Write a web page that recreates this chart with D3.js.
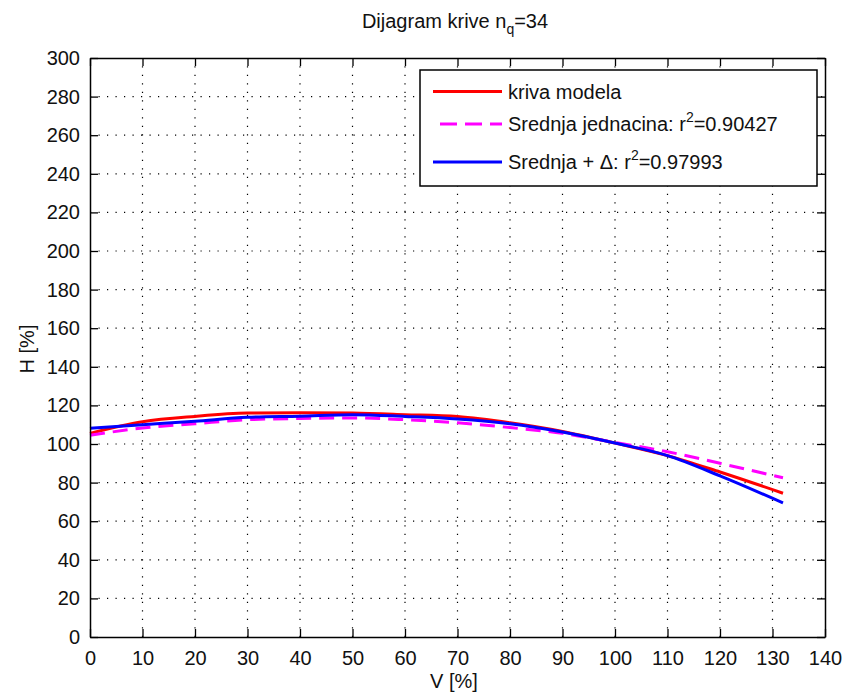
<!DOCTYPE html>
<html>
<head>
<meta charset="utf-8">
<script src="https://cdn.jsdelivr.net/npm/d3@7"></script>
<style>
  body { margin: 0; background: #fff; }
  svg { font-family: "Liberation Sans", Arial, sans-serif; }
</style>
</head>
<body>
<svg></svg>
<script>
// velicina slike
var width = 845;
var height = 694;
var margin = {top: 58, right: 20, bottom: 57, left: 90};

// podaci (ocitani sa slike)
var xKriva = [0, 10, 20, 30, 40, 50, 60, 70, 80, 90, 100, 110, 120, 132];
var kriva = [105.5, 111.5, 114.3, 116, 116.2, 116, 115.2, 114.2, 111, 106.5, 100.5, 94, 85.5, 74.5];
var srednja = [104.5, 108.3, 110.5, 112.6, 113.2, 113.5, 112.6, 111, 108.5, 105.5, 100.8, 96, 90, 82.5];
var delta = [108.2, 110, 111.8, 113.8, 114.4, 115.2, 114.3, 113, 110.5, 106.2, 100.5, 94, 83.5, 69.5];
var xTicks = [0, 10, 20, 30, 40, 50, 60, 70, 80, 90, 100, 110, 120, 130, 140];
var yTicks = [0, 20, 40, 60, 80, 100, 120, 140, 160, 180, 200, 220, 240, 260, 280, 300];
var legenda = ["kriva modela", "Srednja jednacina: r", "Srednja + \u0394: r"];
var r2 = ["", "=0.90427", "=0.97993"];
var boje = ["#ff0000", "#ff00ff", "#0000ff"];

var svg = d3.select("svg")
  .attr("width", width)
  .attr("height", height)
  .style("background", "#ffffff");

var x = d3.scaleLinear().domain([0, 140]).range([margin.left, width - margin.right]);
var y = d3.scaleLinear().domain([0, 300]).range([height - margin.bottom, margin.top]);

var x0 = x(0), x1 = x(140), y0 = y(0), y1 = y(300);

// mreza
var grid = svg.append("g");
grid.selectAll("line.v")
  .data(xTicks.slice(1, -1))
  .enter().append("line")
  .attr("x1", function(d) { return x(d); })
  .attr("x2", function(d) { return x(d); })
  .attr("y1", y0).attr("y2", y1)
  .attr("stroke", "#000").attr("stroke-width", 1.2)
  .attr("stroke-dasharray", "1.2,7.3");
grid.selectAll("line.h")
  .data(yTicks.slice(1, -1))
  .enter().append("line")
  .attr("y1", function(d) { return y(d); })
  .attr("y2", function(d) { return y(d); })
  .attr("x1", x0).attr("x2", x1)
  .attr("stroke", "#000").attr("stroke-width", 1.2)
  .attr("stroke-dasharray", "1.2,7.3");

// krive
var nizovi = [kriva, srednja, delta];
var line = d3.line()
  .x(function(d) { return x(d[0]); })
  .y(function(d) { return y(d[1]); })
  .curve(d3.curveMonotoneX);

svg.selectAll("path.kriva")
  .data(nizovi)
  .enter().append("path")
  .attr("d", function(s) { return line(d3.zip(xKriva, s)); })
  .attr("fill", "none")
  .attr("stroke", function(d, i) { return boje[i]; })
  .attr("stroke-width", 3)
  .attr("stroke-dasharray", function(d, i) { return i == 1 ? "15,8" : null; });

// ose
var axB = svg.append("g").attr("transform", "translate(0," + y0 + ")")
  .call(d3.axisBottom(x).tickValues(xTicks).tickSizeInner(-8).tickSizeOuter(0).tickPadding(14));
var axT = svg.append("g").attr("transform", "translate(0," + y1 + ")")
  .call(d3.axisTop(x).tickValues(xTicks).tickSizeInner(-8).tickSizeOuter(0).tickFormat(""));
var axL = svg.append("g").attr("transform", "translate(" + x0 + ",0)")
  .call(d3.axisLeft(y).tickValues(yTicks).tickSizeInner(-8).tickSizeOuter(0).tickPadding(10));
var axR = svg.append("g").attr("transform", "translate(" + x1 + ",0)")
  .call(d3.axisRight(y).tickValues(yTicks).tickSizeInner(-8).tickSizeOuter(0).tickFormat(""));

[axB, axT, axL, axR].forEach(function(a) {
  a.select(".domain").attr("stroke", "#000").attr("stroke-width", 1.5);
  a.selectAll(".tick line").attr("stroke", "#000").attr("stroke-width", 1.3);
  a.selectAll("text").attr("font-size", 20).attr("fill", "#111")
    .attr("font-family", "Liberation Sans, Arial, sans-serif");
});

// legenda
var lg = svg.append("g");
lg.append("rect")
  .attr("x", 420).attr("y", 70)
  .attr("width", 397).attr("height", 116)
  .attr("fill", "#fff").attr("stroke", "#000").attr("stroke-width", 1.5);
var redovi = [91.5, 124, 162];
lg.selectAll("line.lg")
  .data(boje)
  .enter().append("line")
  .attr("x1", function(d, i) { return i == 1 ? 440 : 433; })
  .attr("x2", 502)
  .attr("y1", function(d, i) { return redovi[i]; })
  .attr("y2", function(d, i) { return redovi[i]; })
  .attr("stroke", function(d) { return d; })
  .attr("stroke-width", 3)
  .attr("stroke-dasharray", function(d, i) { return i == 1 ? "17,8" : null; });
var lt = lg.selectAll("text.lg")
  .data(legenda)
  .enter().append("text")
  .attr("x", 508)
  .attr("y", function(d, i) { return redovi[i] + 7; })
  .attr("font-size", 20)
  .attr("fill", "#111");
lt.append("tspan").text(function(d) { return d; });
lt.filter(function(d, i) { return i > 0; })
  .append("tspan").attr("font-size", 14).attr("dy", -9).text("2");
lt.filter(function(d, i) { return i > 0; })
  .append("tspan").attr("dy", 9).text(function(d, i) { return r2[i + 1]; });

// naslov
var t = svg.append("text")
  .attr("x", 455).attr("y", 28)
  .attr("text-anchor", "middle")
  .attr("font-size", 20)
  .attr("fill", "#111");
t.append("tspan").text("Dijagram krive n");
t.append("tspan").attr("font-size", 14).attr("dy", 6).text("q");
t.append("tspan").attr("dy", -6).text("=34");

// oznake osa
svg.append("text")
  .attr("x", 454).attr("y", 688)
  .attr("text-anchor", "middle")
  .attr("font-size", 20).attr("fill", "#111")
  .text("V [%]");
svg.append("text")
  .attr("transform", "translate(34,349) rotate(-90)")
  .attr("text-anchor", "middle")
  .attr("font-size", 20).attr("fill", "#111")
  .text("H [%]");
</script>
</body>
</html>
